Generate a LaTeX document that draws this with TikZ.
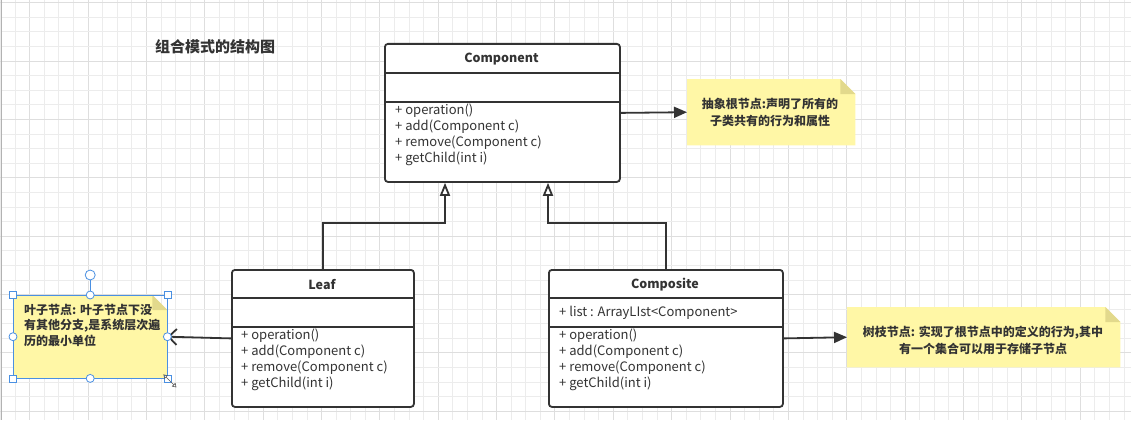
\documentclass[tikz,border=0pt]{standalone}
\usepackage{fontspec}
\setmainfont{Noto Sans CJK SC}
\usetikzlibrary{arrows.meta,calc}
\definecolor{ln}{HTML}{333333}
\definecolor{noteY}{HTML}{FFF7A6}
\definecolor{noteF}{HTML}{E2D98C}
\definecolor{gridm}{HTML}{ECECEC}
\definecolor{gridM}{HTML}{DEDEDE}
\definecolor{selb}{HTML}{4A90E2}
\definecolor{txt}{HTML}{333333}
\begin{document}
\begin{tikzpicture}[x=1pt,y=-1pt,
  classbox/.style={draw=ln, line width=1.8pt, rounded corners=3pt, fill=white, inner sep=0pt, anchor=north west},
  ctitle/.style={font=\fontsize{12.5}{15}\selectfont\bfseries, text=txt, inner sep=0pt},
  members/.style={font=\fontsize{13}{15.8}\selectfont, text=txt, align=left, anchor=north west, inner sep=0pt},
  sep/.style={draw=ln, line width=1.8pt},
  inherit/.style={draw=ln, line width=1.8pt, -{Triangle[open,length=13pt,width=10pt,fill=white]}},
  notearrow/.style={draw=ln, line width=1.8pt, -{Triangle[length=13pt,width=11pt]}},
  openarrow/.style={draw=ln, line width=1.8pt, -{Straight Barb[length=8pt,width=16pt]}},
  notebox/.style={inner sep=0pt, anchor=north west},
  notetext/.style={font=\fontsize{12}{17}\selectfont\bfseries, text=txt, inner sep=0pt},
  handle/.style={draw=selb, fill=white, line width=0.8pt},
]
\useasboundingbox (0,0) rectangle (1131,420);
\fill[white] (0,0) rectangle (1131,420);
% grid
\foreach \i in {-6,...,71}{
  \pgfmathsetmacro\xx{88+\i*14.59}
  \pgfmathtruncatemacro\mm{mod(\i+400,4)}
  \ifnum\mm=0 \draw[gridM, line width=0.8pt] (\xx,0) -- (\xx,420);
  \else \draw[gridm, line width=0.7pt] (\xx,0) -- (\xx,420); \fi
}
\foreach \i in {-4,...,25}{
  \pgfmathsetmacro\yy{61+\i*14.59}
  \pgfmathtruncatemacro\mm{mod(\i+400,4)}
  \ifnum\mm=0 \draw[gridM, line width=0.8pt] (0,\yy) -- (1131,\yy);
  \else \draw[gridm, line width=0.7pt] (0,\yy) -- (1131,\yy); \fi
}
\draw[gray!60, line width=1pt] (1.5,0) -- (1.5,420);

% title
\node[anchor=west, font=\fontsize{15}{18}\selectfont\bfseries, text=txt, inner sep=0pt] (title) at (155,47) {组合模式的结构图};

% Component
\node[classbox, minimum width=235pt, minimum height=138pt] (comp) at (384,43) {};
\draw[sep] ($(comp.north west)+(0,30)$) -- ($(comp.north east)+(0,30)$);
\draw[sep] ($(comp.north west)+(0,59)$) -- ($(comp.north east)+(0,59)$);
\node[ctitle] (compt) at (501.5,59) {Component};
\node[members] (compm) at (395,104) {+ operation()\\+ add(Component c)\\+ remove(Component c)\\+ getChild(int i)};

% Leaf
\node[classbox, minimum width=182pt, minimum height=137pt] (leaf) at (231,269) {};
\draw[sep] ($(leaf.north west)+(0,29)$) -- ($(leaf.north east)+(0,29)$);
\draw[sep] ($(leaf.north west)+(0,58)$) -- ($(leaf.north east)+(0,58)$);
\node[ctitle] (leaft) at (322,284.5) {Leaf};
\node[members] (leafm) at (241,329) {+ operation()\\+ add(Component c)\\+ remove(Component c)\\+ getChild(int i)};

% Composite
\node[classbox, minimum width=234pt, minimum height=137pt] (cps) at (548,269) {};
\draw[sep] ($(cps.north west)+(0,29)$) -- ($(cps.north east)+(0,29)$);
\draw[sep] ($(cps.north west)+(0,58)$) -- ($(cps.north east)+(0,58)$);
\node[ctitle] (cpst) at (665,284.5) {Composite};
\node[members, anchor=west] (cpsa) at (559,313) {+ list : ArrayLIst<Component>};
\node[members] (cpsm) at (559,329) {+ operation()\\+ add(Component c)\\+ remove(Component c)\\+ getChild(int i)};

% inheritance
\coordinate (j1) at (445,223);
\coordinate (j2) at (548,223);
\draw[inherit] (leaf.north) |- (j1) -- (j1 |- comp.south);
\draw[inherit] (cps.north) |- (j2) -- (j2 |- comp.south);

% Note 1
\node[notebox, minimum width=168pt, minimum height=66pt] (n1) at (687,79) {};
\fill[noteY] (n1.north west) -- ($(n1.north east)+(-15,0)$) -- ($(n1.north east)+(0,15)$) -- (n1.south east) -- (n1.south west) -- cycle;
\fill[noteF] ($(n1.north east)+(-15,0)$) -- ($(n1.north east)+(-15,15)$) -- ($(n1.north east)+(0,15)$) -- cycle;
\node[notetext, align=center] (n1t) at (770,112.5) {抽象根节点:声明了所有的\\子类共有的行为和属性};

% Note 2
\node[notebox, minimum width=273pt, minimum height=60pt] (n2) at (847,307) {};
\fill[noteY] (n2.north west) -- ($(n2.north east)+(-15,0)$) -- ($(n2.north east)+(0,15)$) -- (n2.south east) -- (n2.south west) -- cycle;
\fill[noteF] ($(n2.north east)+(-15,0)$) -- ($(n2.north east)+(-15,15)$) -- ($(n2.north east)+(0,15)$) -- cycle;
\node[notetext, align=center] (n2t) at (983,340) {树枝节点: 实现了根节点中的定义的行为,其中\\有一个集合可以用于存储子节点};

% Note 3 (selected)
\node[notebox, minimum width=154pt, minimum height=83pt] (n3) at (13,295) {};
\fill[noteY] (n3.north west) -- ($(n3.north east)+(-15,0)$) -- ($(n3.north east)+(0,15)$) -- (n3.south east) -- (n3.south west) -- cycle;
\fill[noteF] ($(n3.north east)+(-15,0)$) -- ($(n3.north east)+(-15,15)$) -- ($(n3.north east)+(0,15)$) -- cycle;
\node[notetext, align=left, anchor=north west, font=\fontsize{12}{15.5}\selectfont\bfseries] (n3t) at (24,304) {叶子节点: 叶子节点下没\\有其他分支,是系统层次遍\\历的最小单位};

% connectors to notes
\draw[notearrow] (comp.east) -- (n1.west);
\draw[notearrow] (cps.east) -- (n2.west);
\draw[openarrow] (leaf.west) -- (n3.east);

% selection decorations
\draw[selb, line width=0.6pt] (n3.north west) rectangle (n3.south east);
\coordinate (rot) at ($(n3.north)+(0,-20)$);
\draw[selb, line width=0.8pt] (n3.north) -- ($(rot)+(0,5)$);
\draw[handle] (rot) circle (5pt);
\foreach \a in {north, south, west, east}{
  \draw[handle] (n3.\a) circle (4pt);
}
\foreach \a in {north west, north east, south west, south east}{
  \draw[handle] ($(n3.\a)+(-3.5,-3.5)$) rectangle ($(n3.\a)+(3.5,3.5)$);
}
% resize cursor
\draw[gray!70!black, fill=white, line width=0.6pt, {Triangle[open,length=4pt,width=5pt]}-{Triangle[open,length=4pt,width=5pt]}] ($(n3.south east)+(-4,-4)$) -- ($(n3.south east)+(9,9)$);
\end{tikzpicture}
\end{document}
